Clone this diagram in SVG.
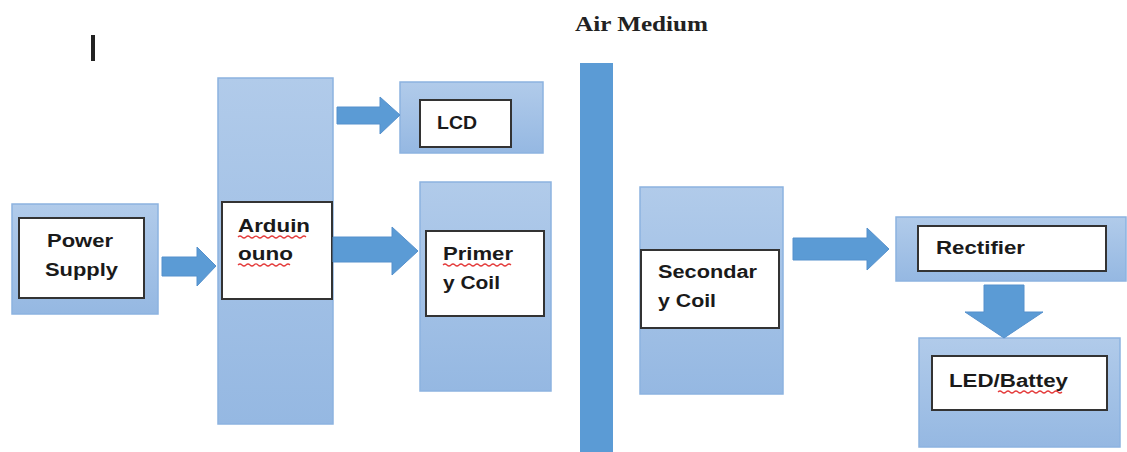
<svg xmlns="http://www.w3.org/2000/svg" width="1127" height="452" viewBox="0 0 1127 452">
<defs>
<linearGradient id="g" x1="0" y1="0" x2="0" y2="1">
<stop offset="0" stop-color="#B1CBEA"/>
<stop offset="1" stop-color="#95B8E2"/>
</linearGradient>
</defs>
<style>
.outer{fill:url(#g);stroke:#8CB3E0;stroke-width:1.5}
.inner{fill:#fff;stroke:#333;stroke-width:2}
.arr{fill:#5B9BD5;stroke:#5590CC;stroke-width:1}
.t{font-family:"Liberation Sans",Arial,sans-serif;font-weight:bold;font-size:18px;fill:#1a1a1a}
.sq{fill:none;stroke:#E43B3B;stroke-width:1.2}
</style>
<rect x="91" y="35" width="4" height="26" fill="#222"/>
<text x="575" y="31" font-family="Liberation Serif,Times New Roman,serif" font-weight="bold" font-size="22" fill="#222" textLength="133" lengthAdjust="spacingAndGlyphs">Air Medium</text>
<rect id="air" x="580" y="63" width="33" height="389" fill="#5B9BD5"/>
<g id="power">
<rect class="outer" x="12" y="204" width="146" height="110"/>
<rect class="inner" x="19" y="218" width="125" height="80"/>
<text class="t" x="47" y="247" textLength="66" lengthAdjust="spacingAndGlyphs">Power</text>
<text class="t" x="45" y="276" textLength="73" lengthAdjust="spacingAndGlyphs">Supply</text>
</g>
<g id="arduino">
<rect class="outer" x="218" y="78" width="115" height="346"/>
<rect class="inner" x="222" y="202" width="110" height="97"/>
<text class="t" x="238" y="232" textLength="72" lengthAdjust="spacingAndGlyphs">Arduin</text>
<text class="t" x="238" y="260" textLength="55" lengthAdjust="spacingAndGlyphs">ouno</text>
<path class="sq" d="M238 237 q2 -2 4 0 t4 0 t4 0 t4 0 t4 0 t4 0 t4 0 t4 0 t4 0 t4 0 t4 0 t4 0 t4 0 t4 0 t4 0 t4 0 t4 0"/>
<path class="sq" d="M238 265 q2 -2 4 0 t4 0 t4 0 t4 0 t4 0 t4 0 t4 0 t4 0 t4 0 t4 0 t4 0 t4 0 t4 0"/>
</g>
<g id="lcd">
<rect class="outer" x="400" y="82" width="143" height="71"/>
<rect class="inner" x="420" y="100" width="91" height="47"/>
<text class="t" x="437" y="129" textLength="40" lengthAdjust="spacingAndGlyphs">LCD</text>
</g>
<g id="primary">
<rect class="outer" x="420" y="182" width="131" height="209"/>
<rect class="inner" x="426" y="231" width="118" height="85"/>
<text class="t" x="443" y="260" textLength="70" lengthAdjust="spacingAndGlyphs">Primer</text>
<text class="t" x="443" y="289" textLength="57" lengthAdjust="spacingAndGlyphs">y Coil</text>
<path class="sq" d="M443 265 q2 -2 4 0 t4 0 t4 0 t4 0 t4 0 t4 0 t4 0 t4 0 t4 0 t4 0 t4 0 t4 0 t4 0 t4 0 t4 0 t4 0 t4 0"/>
</g>
<g id="secondary">
<rect class="outer" x="640" y="187" width="143" height="207"/>
<rect class="inner" x="641" y="250" width="138" height="78"/>
<text class="t" x="658" y="278" textLength="99" lengthAdjust="spacingAndGlyphs">Secondar</text>
<text class="t" x="658" y="307" textLength="58" lengthAdjust="spacingAndGlyphs">y Coil</text>
</g>
<g id="rectifier">
<rect class="outer" x="896" y="217" width="230" height="64"/>
<rect class="inner" x="918" y="226" width="188" height="45"/>
<text class="t" x="936" y="254" textLength="89" lengthAdjust="spacingAndGlyphs">Rectifier</text>
</g>
<g id="led">
<rect class="outer" x="919" y="338" width="201" height="109"/>
<rect class="inner" x="932" y="356" width="175" height="54"/>
<text class="t" x="949" y="387" textLength="119" lengthAdjust="spacingAndGlyphs">LED/Battey</text>
<path class="sq" d="M998 392 q2 -2 4 0 t4 0 t4 0 t4 0 t4 0 t4 0 t4 0 t4 0 t4 0 t4 0 t4 0 t4 0 t4 0 t4 0 t4 0 t4 0"/>
</g>
<g id="connectors">
<path class="arr" d="M162 257 H197 V247 L216 266 L197 286 V276 H162 Z"/>
<path class="arr" d="M337 107 H380 V97 L400 115 L380 134 V124 H337 Z"/>
<path class="arr" d="M333 237 H392 V227 L418 251 L392 275 V262 H333 Z"/>
<path class="arr" d="M793 238 H867 V228 L889 249 L867 270 V260 H793 Z"/>
<path class="arr" d="M984 285 H1024 V312 H1043 L1004 338 L965 312 H984 Z"/>
</g>
</svg>
